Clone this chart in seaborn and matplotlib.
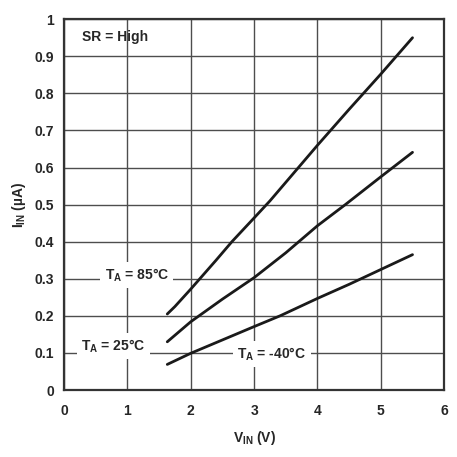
import matplotlib
matplotlib.use("Agg")
import matplotlib.pyplot as plt
import seaborn as sns
import pandas as pd

# ---- data ----
x_85 = [1.63, 1.75, 2.0, 2.4, 2.65, 3.0, 3.25, 3.7, 4.0, 4.5, 5.0, 5.5]
y_85 = [0.205, 0.225, 0.272, 0.35, 0.40, 0.464, 0.51, 0.60, 0.66, 0.757, 0.852, 0.95]

x_25 = [1.63, 2.0, 2.5, 3.0, 3.5, 4.0, 4.44, 5.0, 5.5]
y_25 = [0.13, 0.184, 0.245, 0.303, 0.37, 0.443, 0.50, 0.575, 0.641]

x_m40 = [1.63, 2.0, 2.5, 3.0, 3.41, 4.0, 4.5, 5.0, 5.5]
y_m40 = [0.069, 0.099, 0.135, 0.171, 0.20, 0.247, 0.285, 0.325, 0.365]

series_names = ["85", "25", "-40"]
x_ticks = [0, 1, 2, 3, 4, 5, 6]
y_ticks = [0, 0.1, 0.2, 0.3, 0.4, 0.5, 0.6, 0.7, 0.8, 0.9, 1]
y_tick_labels = ["0", "0.1", "0.2", "0.3", "0.4", "0.5", "0.6", "0.7", "0.8", "0.9", "1"]

df = pd.concat([
    pd.DataFrame({"V": x_85, "I": y_85, "T": series_names[0]}),
    pd.DataFrame({"V": x_25, "I": y_25, "T": series_names[1]}),
    pd.DataFrame({"V": x_m40, "I": y_m40, "T": series_names[2]}),
])

sns.set_style("white")
plt.rcParams["font.family"] = ["Liberation Sans", "DejaVu Sans"]
plt.rcParams["font.weight"] = "bold"
plt.rcParams["mathtext.fontset"] = "custom"
plt.rcParams["mathtext.rm"] = "Liberation Sans:bold"
plt.rcParams["mathtext.bf"] = "Liberation Sans:bold"
plt.rcParams["mathtext.it"] = "Liberation Sans:bold"

fig = plt.figure(figsize=(4.57, 4.57), dpi=100)
ax = fig.add_axes([0.140, 0.1466, 0.832, 0.8114])

sns.lineplot(data=df, x="V", y="I", hue="T", palette=["#1a1a1a"] * 3,
             linewidth=2.0, legend=False, ax=ax, sort=False, zorder=3)

ax.set_xlim(0, 6)
ax.set_ylim(0, 1)
ax.set_xticks(x_ticks)
ax.set_xticklabels([str(t) for t in x_ticks], fontsize=10, fontweight="bold")
ax.set_yticks(y_ticks)
ax.set_yticklabels(y_tick_labels, fontsize=10, fontweight="bold")
ax.tick_params(axis="y", length=0, pad=7)
ax.tick_params(axis="x", length=0, pad=10)

ax.grid(True, color="#4d4d4d", linewidth=1.0)
ax.set_axisbelow(True)
for s in ax.spines.values():
    s.set_visible(True)
    s.set_color("#333333")
    s.set_linewidth(1.6)

ax.set_xlabel(r"V$_{\mathrm{IN}}$ (V)", fontsize=10, fontweight="bold", labelpad=8)
ax.set_ylabel(r"I$_{\mathrm{IN}}$ (µA)", fontsize=10, fontweight="bold", labelpad=5)

box = dict(facecolor="white", edgecolor="none", pad=3)
ax.text(0.28, 0.951, "SR = High", fontsize=10, fontweight="bold",
        ha="left", va="center", zorder=4)
ax.text(1.15, 0.31, r"T$_{\mathrm{A}}$ = 85°C", fontsize=10, fontweight="bold",
        ha="center", va="center", bbox=box, zorder=4)
ax.text(0.78, 0.118, r"T$_{\mathrm{A}}$ = 25°C", fontsize=10, fontweight="bold",
        ha="center", va="center", bbox=box, zorder=4)
ax.text(3.28, 0.097, r"T$_{\mathrm{A}}$ = -40°C", fontsize=10, fontweight="bold",
        ha="center", va="center", bbox=box, zorder=4)

fig.savefig("out.png", dpi=100, facecolor="white")
